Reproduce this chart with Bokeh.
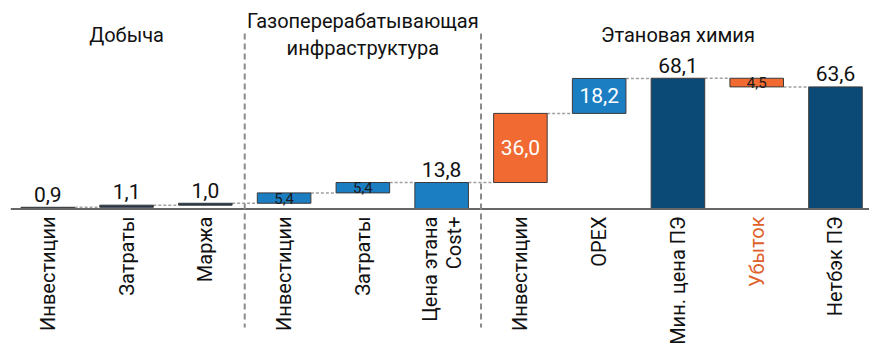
import math
from bokeh.plotting import figure
from bokeh.models import Range1d, ColumnDataSource
from bokeh.core.properties import value
from bokeh.embed import file_html
from bokeh.resources import INLINE

# ---- data ----
group_titles = ["Добыча", "Газоперерабатывающая\nинфраструктура", "Этановая химия"]
group_centers = [1, 4, 8]          # index of the middle category of each group
group_bounds = [2.5, 5.5]          # separators between groups

categories = ["Инвестиции", "Затраты", "Маржа",
              "Инвестиции", "Затраты", "Цена этана\nCost+",
              "Инвестиции", "OPEX", "Мин. цена ПЭ", "Убыток", "Нетбэк ПЭ"]
values = [0.9, 1.1, 1.0, 5.4, 5.4, 13.8, 36.0, 18.2, 68.1, -4.5, 63.6]
is_total = [False, False, False, False, False, True,
            False, False, True, False, True]

# ---- styles ----
NAVY, BLUE, ORANGE, SMALL = "#0b4a77", "#1b7ec3", "#f06a32", "#1e3955"
bar_colors = [SMALL, SMALL, SMALL, BLUE, BLUE, BLUE,
              ORANGE, BLUE, NAVY, ORANGE, NAVY]
label_mode = ["above", "above", "above", "inside_s", "inside_s", "above",
              "inside", "inside", "above", "inside_s", "above"]
cat_colors = ["#111111"] * 9 + ["#e0602a", "#111111"]
FONT = value("Roboto")

# ---- waterfall geometry from values ----
idx = list(range(len(values)))
bottoms, tops, ends = [], [], []
run = 0.0
for v, tot in zip(values, is_total):
    if tot:
        b, t = 0.0, v
        run = v
    else:
        b, t = run, run + v
        run = run + v
    bottoms.append(min(b, t))
    tops.append(max(b, t))
    ends.append(run)

W = 0.68
p = figure(width=869, height=346,
           x_range=Range1d(-0.6005, 10.432), y_range=Range1d(-71.6, 108.6),
           output_backend="svg", toolbar_location=None, min_border=0)
p.axis.visible = False
p.grid.visible = False
p.outline_line_color = None
p.background_fill_color = "white"
p.border_fill_color = "white"

# connectors
cx0 = [i + W / 2 for i in idx[:-1]]
cx1 = [i + 1 - W / 2 for i in idx[:-1]]
p.segment(x0=cx0, y0=ends[:-1], x1=cx1, y1=ends[:-1],
          line_color="#a0a0a0", line_width=1.5, line_dash="3 2")

# bars
src = ColumnDataSource(dict(x=idx, b=bottoms, t=tops, c=bar_colors))
p.vbar(x="x", width=W, bottom="b", top="t", fill_color="c",
       line_color="#3a3a3a", line_width=1, source=src)

# baseline
p.segment(x0=[-0.47], y0=[0], x1=[10.45], y1=[0], line_color="#666666", line_width=2)

# group separators
p.segment(x0=group_bounds, y0=[91.4] * 2, x1=group_bounds, y1=[-61.7] * 2,
          line_color="#8a8a8a", line_width=2, line_dash="6 4")

# group titles
p.text(x=group_centers, y=[90.8] * 3, text=group_titles,
       text_align="center", text_baseline="middle", text_font=FONT,
       text_font_size="20px", text_color="#111111", text_line_height=1.1)

# value labels
def fmt(v):
    return f"{abs(v):.1f}".replace(".", ",")

ax, ay, at = [], [], []
ix, iy, it = [], [], []
sx, sy, st = [], [], []
for i, v in enumerate(values):
    if label_mode[i] == "above":
        ax.append(i); ay.append(tops[i] + 3.0); at.append(fmt(v))
    elif label_mode[i] == "inside":
        ix.append(i); iy.append((tops[i] + bottoms[i]) / 2); it.append(fmt(v))
    else:
        sx.append(i); sy.append((tops[i] + bottoms[i]) / 2); st.append(fmt(v))

p.text(x=ax, y=ay, text=at, text_align="center", text_baseline="bottom",
       text_font=FONT, text_font_size="21px", text_color="#111111")
p.text(x=ix, y=iy, text=it, text_align="center", text_baseline="middle",
       text_font=FONT, text_font_size="21px", text_color="white")
p.text(x=sx, y=sy, text=st, text_align="center", text_baseline="middle",
       text_font=FONT, text_font_size="15px", text_color="#1a1a1a")

# category labels (rotated)
p.text(x=idx, y=[-3.9] * len(idx), text=categories, angle=math.pi / 2,
       text_align="right", text_baseline="middle", text_font=FONT,
       text_font_size="20px", text_color=cat_colors, text_line_height=1.0)

open("out.html", "w").write(file_html(p, INLINE))
